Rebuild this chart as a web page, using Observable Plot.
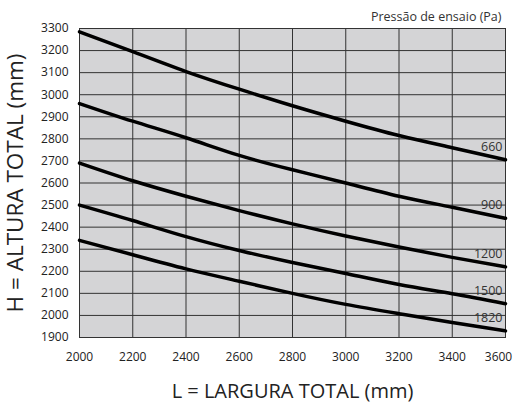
<!DOCTYPE html>
<html><head><meta charset="utf-8">
<script src="https://cdn.jsdelivr.net/npm/d3@7"></script>
<script src="https://cdn.jsdelivr.net/npm/@observablehq/plot@0.6"></script>
<style>body{margin:0;background:#fff;font-family:"Open Sans",sans-serif;}</style>
</head><body><div id="chart"></div>
<script>
const widths = [2000,2200,2400,2600,2800,3000,3200,3400,3600];
const pressures = ["660","900","1200","1500","1820"];
const h660  = [3285,3195,3105,3025,2950,2880,2815,2760,2705];
const h900  = [2960,2880,2805,2725,2660,2600,2540,2490,2440];
const h1200 = [2690,2610,2540,2475,2415,2360,2310,2263,2220];
const h1500 = [2500,2430,2357,2294,2240,2190,2140,2098,2053];
const h1820 = [2340,2275,2211,2155,2100,2050,2008,1968,1930];
const xTicks = [2000,2200,2400,2600,2800,3000,3200,3400,3600];
const yTicks = [1900,2000,2100,2200,2300,2400,2500,2600,2700,2800,2900,3000,3100,3200,3300];
const xTitle = "L = LARGURA TOTAL (mm)";
const yTitle = "H = ALTURA TOTAL (mm)";
const legendTitle = "Pressão de ensaio (Pa)";

const seriesVals = [h660,h900,h1200,h1500,h1820];
const rows = [];
pressures.forEach((p,i)=>widths.forEach((w,j)=>rows.push({p, w, h: seriesVals[i][j]})));
const ends = pressures.map((p,i)=>({p, w: widths[widths.length-1], h: seriesVals[i][widths.length-1]}));
const lastX = xTicks[xTicks.length-1];

const chart = Plot.plot({
  width: 515, height: 412,
  marginLeft: 79, marginRight: 10, marginTop: 28, marginBottom: 75,
  style: {fontFamily: "'Open Sans', sans-serif", fontSize: "12px", color: "#222", background: "transparent"},
  x: {domain: [2000,3600], label: null, axis: null},
  y: {domain: [1900,3300], ticks: yTicks, tickSize: 0, tickPadding: 11, label: null, tickFormat: d=>String(d)},
  marks: [
    Plot.frame({fill: "#d4d4d6"}),
    Plot.gridX(xTicks, {stroke: "#333", strokeOpacity: 1, strokeWidth: 1}),
    Plot.gridY(yTicks, {stroke: "#333", strokeOpacity: 1, strokeWidth: 1}),
    Plot.frame({stroke: "#333", strokeWidth: 1}),
    Plot.axisX(xTicks.filter(t=>t!==lastX), {tickSize: 0, tickPadding: 15, label: null, tickFormat: d=>String(d)}),
    Plot.axisX([lastX], {tickSize: 0, tickPadding: 15, label: null, tickFormat: d=>String(d), dx: -7}),
    Plot.line(rows, {x: "w", y: "h", z: "p", stroke: "#000", strokeWidth: 3.5, curve: "natural"}),
    Plot.text(ends, {x: "w", y: "h", text: "p", textAnchor: "end", dx: -3, dy: -13, fill: "#333", fontSize: 12.5}),
    Plot.text([yTitle], {text: d=>d, frameAnchor: "left", textAnchor: "middle", dx: -64, rotate: -90, fontSize: 22.5, fill: "#222"}),
    Plot.text([xTitle], {text: d=>d, frameAnchor: "bottom", textAnchor: "middle", dy: 60, fontSize: 20, fill: "#222"}),
    Plot.text([legendTitle], {text: d=>d, frameAnchor: "top-right", textAnchor: "end", dy: -16, dx: -4, fontSize: 12.5, fill: "#333"})
  ]
});
document.getElementById("chart").appendChild(chart);
</script></body></html>
